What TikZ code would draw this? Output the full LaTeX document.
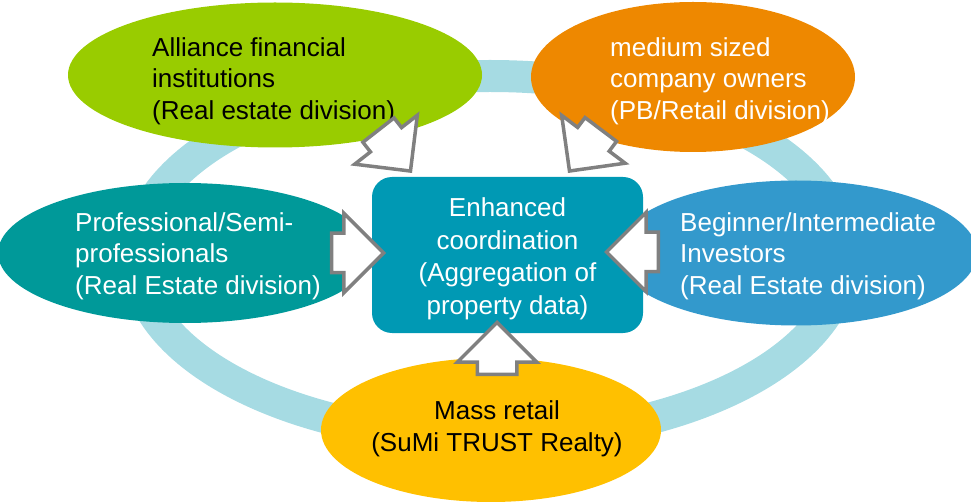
\documentclass[tikz,border=0pt]{standalone}
\usepackage{fontspec}
\setmainfont{Liberation Sans}
\usetikzlibrary{shapes.geometric,shapes.arrows}

\definecolor{ringblue}{RGB}{166,219,227}
\definecolor{allgreen}{RGB}{153,204,0}
\definecolor{ownorange}{RGB}{238,136,0}
\definecolor{proteal}{RGB}{0,153,153}
\definecolor{begblue}{RGB}{51,153,204}
\definecolor{massyellow}{RGB}{255,192,0}
\definecolor{hubcyan}{RGB}{0,153,180}
\definecolor{arrowgray}{RGB}{128,128,128}

\begin{document}
\begin{tikzpicture}[x=1pt, y=-1pt,
    oval/.style={ellipse, inner sep=0pt},
    lbl/.style={anchor=west, align=left, inner sep=0pt, font=\fontsize{26}{31.5}\selectfont},
    hub/.style={rounded corners=20pt, fill=hubcyan, text=white, align=center, inner sep=0pt, font=\fontsize{26}{32.5}\selectfont},
    push/.style={single arrow, anchor=tip, draw=arrowgray, fill=white, line width=3.5pt, minimum height=52pt, inner xsep=0pt, inner ysep=18pt, single arrow head extend=20pt, single arrow head indent=0pt}
]
\useasboundingbox (0,0) rectangle (971,502);
\clip (0,0) rectangle (971,502);

% ring behind everything
\node[oval, draw=ringblue, line width=32pt, minimum width=708pt, minimum height=362pt] (ring) at (490,257) {};

\node[oval, fill=allgreen, minimum width=414pt, minimum height=145pt] (alliance) at (275,75) {};
\node[oval, fill=ownorange, minimum width=324pt, minimum height=150pt] (owners) at (693,77) {};
\node[oval, fill=proteal, minimum width=374pt, minimum height=140pt] (pros) at (185,253) {};
\node[oval, fill=begblue, minimum width=362pt, minimum height=145pt] (beginner) at (796,253) {};
\node[oval, fill=massyellow, minimum width=340pt, minimum height=144pt] (mass) at (491,430) {};

\node[lbl] (alliance-t) at (152,81) {Alliance financial\\institutions\\(Real estate division)};
\node[lbl, text=white] (owners-t) at (610,81) {medium sized\\company owners\\(PB/Retail division)};
\node[lbl, text=white] (pros-t) at (75,256) {Professional/Semi-\\professionals\\(Real Estate division)};
\node[lbl, text=white] (beginner-t) at (680,256) {Beginner/Intermediate\\Investors\\(Real Estate division)};
\node[lbl, anchor=center, align=center] (mass-t) at (497,429) {Mass retail\\(SuMi TRUST Realty)};

\node[hub, minimum width=271pt, minimum height=156pt] (coord) at (507.5,255) {};
\node[hub, fill=none] (coord-t) at (507.5,259) {Enhanced\\coordination\\(Aggregation of\\property data)};

% arrows into the hub
\node[push, rotate=0] (a-pros) at (386,253) {};
\node[push, rotate=180] (a-beg) at (604,252) {};
\node[push, rotate=90] (a-mass) at (497,320) {};
\node[push, rotate=-52] (a-all) at (412,173) {};
\node[push, rotate=-127] (a-own) at (568,173) {};
\end{tikzpicture}
\end{document}
